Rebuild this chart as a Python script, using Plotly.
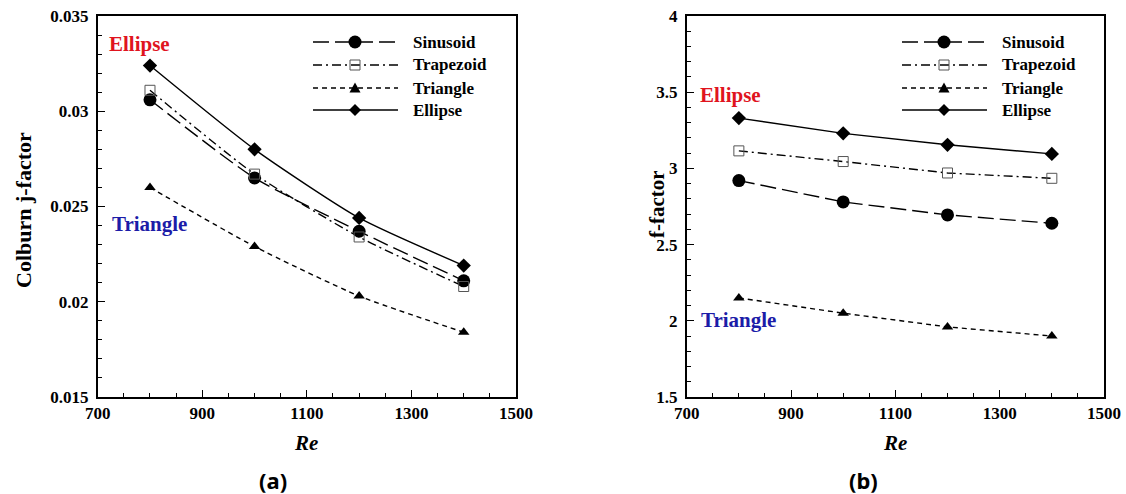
import plotly.graph_objects as go

# ---------------- data ----------------
re_vals = [800, 1000, 1200, 1400]
series_names = ["Sinusoid", "Trapezoid", "Triangle", "Ellipse"]

j_sinusoid = [0.0306, 0.0265, 0.0237, 0.0211]
j_trapezoid = [0.0311, 0.0267, 0.0234, 0.0208]
j_triangle = [0.0260, 0.0229, 0.0203, 0.0184]
j_ellipse = [0.0324, 0.0280, 0.0244, 0.0219]

f_sinusoid = [2.92, 2.78, 2.695, 2.64]
f_trapezoid = [3.115, 3.045, 2.97, 2.935]
f_triangle = [2.15, 2.05, 1.96, 1.90]
f_ellipse = [3.33, 3.23, 3.155, 3.095]

x_tickvals = [700, 900, 1100, 1300, 1500]
x_ticktext = ["700", "900", "1100", "1300", "1500"]
j_tickvals = [0.015, 0.02, 0.025, 0.03, 0.035]
j_ticktext = ["0.015", "0.02", "0.025", "0.03", "0.035"]
f_tickvals = [1.5, 2, 2.5, 3, 3.5, 4]
f_ticktext = ["1.5", "2", "2.5", "3", "3.5", "4"]

# ---------------- styles ----------------
W, H = 1126, 494
SERIF = "Liberation Serif"
styles = {
    "Sinusoid": dict(dash="16px,6px", symbol="circle", size=13, color="black", mline=0),
    "Trapezoid": dict(dash="9px,4px,2px,4px", symbol="square-open", size=10, color="#555555", mline=1),
    "Triangle": dict(dash="5px,4px", symbol="triangle-up", size=10, color="black", mline=0),
    "Ellipse": dict(dash="solid", symbol="diamond", size=11, color="black", mline=0),
}

fig = go.Figure()

left = {"Sinusoid": j_sinusoid, "Trapezoid": j_trapezoid, "Triangle": j_triangle, "Ellipse": j_ellipse}
right = {"Sinusoid": f_sinusoid, "Trapezoid": f_trapezoid, "Triangle": f_triangle, "Ellipse": f_ellipse}

for name in series_names:
    s = styles[name]
    fig.add_trace(go.Scatter(
        x=re_vals, y=left[name], mode="lines+markers", name=name,
        line=dict(color="black", width=1.4, dash=s["dash"], shape="spline", smoothing=0.6),
        marker=dict(symbol=s["symbol"], size=s["size"], color=s["color"],
                    line=dict(width=s["mline"], color=s["color"])),
        xaxis="x", yaxis="y", showlegend=False))
    fig.add_trace(go.Scatter(
        x=re_vals, y=right[name], mode="lines+markers", name=name,
        line=dict(color="black", width=1.4, dash=s["dash"]),
        marker=dict(symbol=s["symbol"], size=s["size"], color=s["color"],
                    line=dict(width=s["mline"], color=s["color"])),
        xaxis="x2", yaxis="y2", showlegend=False))

tickfont = dict(family=SERIF, size=17, color="black", weight="bold")
ax_common = dict(showline=True, linecolor="black", linewidth=1.6, mirror=True,
                 showgrid=False, zeroline=False, ticks="inside", ticklen=7,
                 tickwidth=1.4, tickcolor="black", tickfont=tickfont, automargin=False)

def px_x(p):
    return p / W

def px_y(p):
    return 1 - p / H

xdom1 = [px_x(97.7), px_x(516)]
xdom2 = [px_x(686.7), px_x(1104)]
ydom = [px_y(397), px_y(16)]

def bold(lst):
    return ["<b>%s</b>" % t for t in lst]

fig.update_layout(
    width=W, height=H, margin=dict(l=0, r=0, t=0, b=0, autoexpand=False),
    paper_bgcolor="white", plot_bgcolor="white", showlegend=False,
    xaxis=dict(domain=xdom1, range=[700, 1500], tickvals=x_tickvals, ticktext=bold(x_ticktext),
               minor=dict(dtick=50, ticks="inside", ticklen=4, tickcolor="black", tickwidth=1),
               anchor="y", **ax_common),
    yaxis=dict(domain=ydom, range=[0.015, 0.035], tickvals=j_tickvals, ticktext=bold(j_ticktext),
               minor=dict(dtick=0.001, ticks="inside", ticklen=4, tickcolor="black", tickwidth=1),
               anchor="x", ticklabelstandoff=4, **ax_common),
    xaxis2=dict(domain=xdom2, range=[700, 1500], tickvals=x_tickvals, ticktext=bold(x_ticktext),
                minor=dict(dtick=50, ticks="inside", ticklen=4, tickcolor="black", tickwidth=1),
                anchor="y2", **ax_common),
    yaxis2=dict(domain=ydom, range=[1.5, 4], tickvals=f_tickvals, ticktext=bold(f_ticktext),
                minor=dict(dtick=0.1, ticks="inside", ticklen=4, tickcolor="black", tickwidth=1),
                anchor="x2", ticklabelstandoff=4, **ax_common),
)

ann = []
def add_text(text, xp, yp, size, color="black", family=SERIF, style="normal",
             xanchor="center", textangle=0):
    ann.append(dict(text="<b>%s</b>" % text, x=px_x(xp), y=px_y(yp), xref="paper", yref="paper",
                    showarrow=False, xanchor=xanchor, yanchor="middle", textangle=textangle,
                    borderpad=0,
                    font=dict(family=family, size=size, color=color, style=style)))

# axis titles
add_text("Colburn j-factor", 23, 210, 22, textangle=-90)
add_text("f-factor", 657, 204, 21, textangle=-90)
add_text("Re", 306, 443, 21, style="italic")
add_text("Re", 895, 443, 21, style="italic")
# panel labels
add_text("(a)", 273, 480, 22, family="Noto Sans")
add_text("(b)", 863, 480, 22, family="Noto Sans")
# in-plot labels
add_text("Ellipse", 108, 44, 21, color="#e0141e", xanchor="left")
add_text("Triangle", 111, 224, 21, color="#1c1ca8", xanchor="left")
add_text("Ellipse", 699, 95, 21, color="#e0141e", xanchor="left")
add_text("Triangle", 700, 320, 21, color="#1c1ca8", xanchor="left")

# manual legends
shapes = []
row_y = [42, 65, 88, 110]
for (lx0, lx1, mx, tx) in [(313, 398, 355, 412), (902, 987, 944, 1001)]:
    for name, ry in zip(series_names, row_y):
        s = styles[name]
        shapes.append(dict(type="line", xref="paper", yref="paper",
                           x0=px_x(lx0), x1=px_x(lx1), y0=px_y(ry), y1=px_y(ry),
                           line=dict(color="black", width=1.4, dash=s["dash"])))
        common = dict(xref="paper", yref="paper", xsizemode="pixel", ysizemode="pixel",
                      xanchor=px_x(mx), yanchor=px_y(ry))
        if name == "Sinusoid":
            shapes.append(dict(type="circle", x0=-6.5, x1=6.5, y0=-6.5, y1=6.5,
                               fillcolor="black", line=dict(width=0), **common))
        elif name == "Trapezoid":
            shapes.append(dict(type="rect", x0=-5, x1=5, y0=-5, y1=5,
                               fillcolor="rgba(0,0,0,0)", line=dict(width=1, color="#555555"), **common))
        elif name == "Triangle":
            shapes.append(dict(type="path", path="M -5.5 -4.5 L 5.5 -4.5 L 0 5.5 Z",
                               fillcolor="black", line=dict(width=0), **common))
        else:
            shapes.append(dict(type="path", path="M -6 0 L 0 6 L 6 0 L 0 -6 Z",
                               fillcolor="black", line=dict(width=0), **common))
        add_text(name, tx, ry, 17, xanchor="left")

fig.update_layout(annotations=ann, shapes=shapes)
fig.write_html("out.html")
